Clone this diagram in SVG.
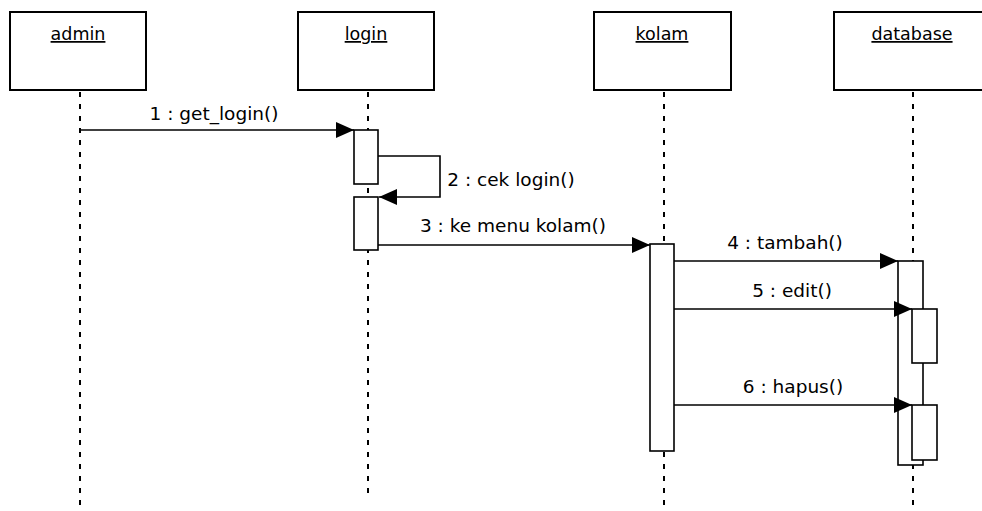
<svg xmlns="http://www.w3.org/2000/svg" width="982" height="511" viewBox="0 0 982 511">
<defs>
<style>
.box{fill:#fff;stroke:#000;stroke-width:2}
.act{fill:#fff;stroke:#000;stroke-width:1.6}
.life{stroke:#000;stroke-width:2;stroke-dasharray:5 7;fill:none}
.msg{stroke:#000;stroke-width:1.6;fill:none}
.name{font-family:"DejaVu Sans",Verdana,sans-serif;font-size:17.5px;fill:#000;text-anchor:middle;text-decoration:underline}
.lbl{font-family:"DejaVu Sans",Verdana,sans-serif;font-size:18.5px;fill:#000;text-anchor:middle}
</style>
<marker id="arr" viewBox="0 0 18 16" refX="18" refY="8" markerWidth="18" markerHeight="16" markerUnits="userSpaceOnUse" orient="auto">
<path d="M0,0 L18,8 L0,16 Z" fill="#000"/>
</marker>
</defs>
<rect width="982" height="511" fill="#fff"/>

<g id="lifelines">
<line class="life" x1="80" y1="92" x2="80" y2="507"/>
<line class="life" x1="368" y1="92" x2="368" y2="497"/>
<line class="life" x1="664" y1="92" x2="664" y2="507"/>
<line class="life" x1="913" y1="92" x2="913" y2="507"/>
</g>

<g id="admin">
<rect class="box" x="10" y="12" width="136" height="78"/>
<text class="name" x="78" y="40">admin</text>
</g>
<g id="login">
<rect class="box" x="298" y="12" width="136" height="78"/>
<rect class="act" x="354" y="130" width="24" height="54"/>
<rect class="act" x="354" y="197" width="24" height="53"/>
<text class="name" x="366" y="40">login</text>
</g>
<g id="kolam">
<rect class="box" x="594" y="12" width="137" height="78"/>
<rect class="act" x="650" y="244" width="24" height="207"/>
<text class="name" x="662" y="40">kolam</text>
</g>
<g id="database">
<rect class="box" x="834" y="12" width="160" height="78"/>
<rect class="act" x="898" y="261" width="25" height="204"/>
<rect class="act" x="912" y="309" width="25" height="54"/>
<rect class="act" x="912" y="405" width="25" height="55"/>
<text class="name" x="912" y="40">database</text>
</g>

<g id="connectors">
<line class="msg" x1="80" y1="130" x2="354" y2="130" marker-end="url(#arr)"/>
<text class="lbl" x="214" y="120">1 : get_login()</text>
<polyline class="msg" points="378,156 440,156 440,197 379,197" marker-end="url(#arr)"/>
<text class="lbl" x="511" y="186">2 : cek login()</text>
<line class="msg" x1="378" y1="245" x2="650" y2="245" marker-end="url(#arr)"/>
<text class="lbl" x="513" y="232">3 : ke menu kolam()</text>
<line class="msg" x1="674" y1="261" x2="898" y2="261" marker-end="url(#arr)"/>
<text class="lbl" x="785" y="249">4 : tambah()</text>
<line class="msg" x1="674" y1="309" x2="912" y2="309" marker-end="url(#arr)"/>
<text class="lbl" x="792" y="297">5 : edit()</text>
<line class="msg" x1="674" y1="405" x2="912" y2="405" marker-end="url(#arr)"/>
<text class="lbl" x="793" y="393">6 : hapus()</text>
</g>
</svg>
